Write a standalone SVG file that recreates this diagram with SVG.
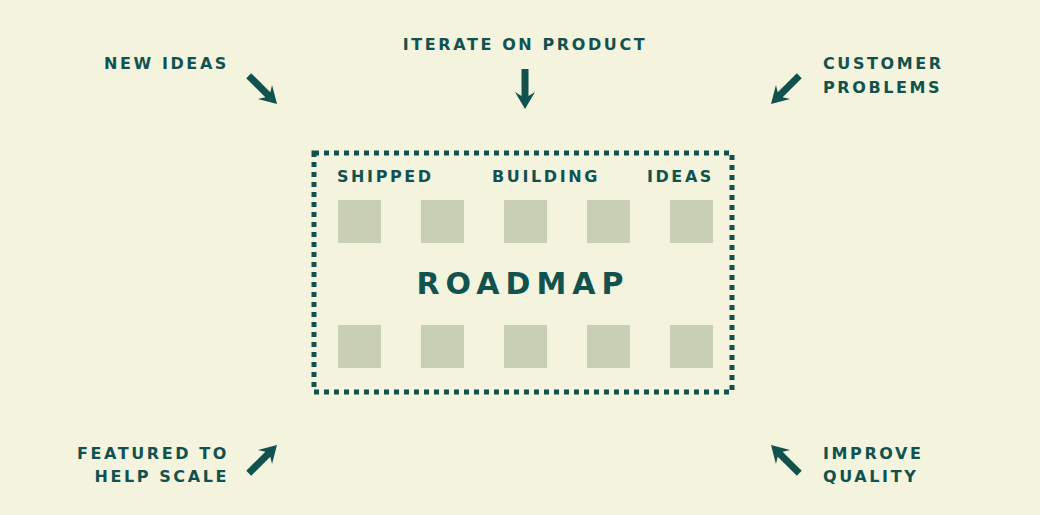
<svg xmlns="http://www.w3.org/2000/svg" width="1040" height="515" viewBox="0 0 1040 515">
<style>
.t{font-family:"DejaVu Sans","Liberation Sans",sans-serif;font-weight:bold;font-size:16px;letter-spacing:2.6px;fill:#11524f}
.sq{fill:#c9cfb5}
.ar{fill:#11524f}
</style>
<defs>
<path id="arr" d="M0,0 L-17,-10 L-13,-3.5 L-40,-3.5 L-40,3.5 L-13,3.5 L-17,10 Z"/>
</defs>
<rect width="1040" height="515" fill="#f4f4de"/>
<g id="new-ideas"><text class="t" x="229" y="69" text-anchor="end">NEW IDEAS</text></g>
<g id="iterate"><text class="t" x="525" y="50" text-anchor="middle">ITERATE ON PRODUCT</text></g>
<g id="customer"><text class="t" x="823" y="69">CUSTOMER</text><text class="t" x="823" y="93">PROBLEMS</text></g>
<g id="featured"><text class="t" x="229" y="459" text-anchor="end">FEATURED TO</text><text class="t" x="229" y="482" text-anchor="end">HELP SCALE</text></g>
<g id="improve"><text class="t" x="823" y="459">IMPROVE</text><text class="t" x="823" y="482">QUALITY</text></g>
<g id="roadmap">
<rect x="314" y="153" width="418" height="239" fill="none" stroke="#11524f" stroke-width="5" stroke-dasharray="5 5"/>
<text class="t" x="337" y="182">SHIPPED</text>
<text class="t" x="546" y="182" text-anchor="middle">BUILDING</text>
<text class="t" x="714" y="182" text-anchor="end">IDEAS</text>
<text class="t" x="523" y="294" text-anchor="middle" style="font-size:30px;letter-spacing:6px">ROADMAP</text>
<rect class="sq" x="338" y="200" width="43" height="43"/><rect class="sq" x="421" y="200" width="43" height="43"/><rect class="sq" x="504" y="200" width="43" height="43"/><rect class="sq" x="587" y="200" width="43" height="43"/><rect class="sq" x="670" y="200" width="43" height="43"/>
<rect class="sq" x="338" y="325" width="43" height="43"/><rect class="sq" x="421" y="325" width="43" height="43"/><rect class="sq" x="504" y="325" width="43" height="43"/><rect class="sq" x="587" y="325" width="43" height="43"/><rect class="sq" x="670" y="325" width="43" height="43"/>
</g>
<g id="connectors" class="ar">
<use href="#arr" transform="translate(277,104) rotate(45)"/>
<use href="#arr" transform="translate(525,109) rotate(90)"/>
<use href="#arr" transform="translate(771,104) rotate(135)"/>
<use href="#arr" transform="translate(277,445) rotate(-45)"/>
<use href="#arr" transform="translate(771,445) rotate(-135)"/>
</g>
</svg>
